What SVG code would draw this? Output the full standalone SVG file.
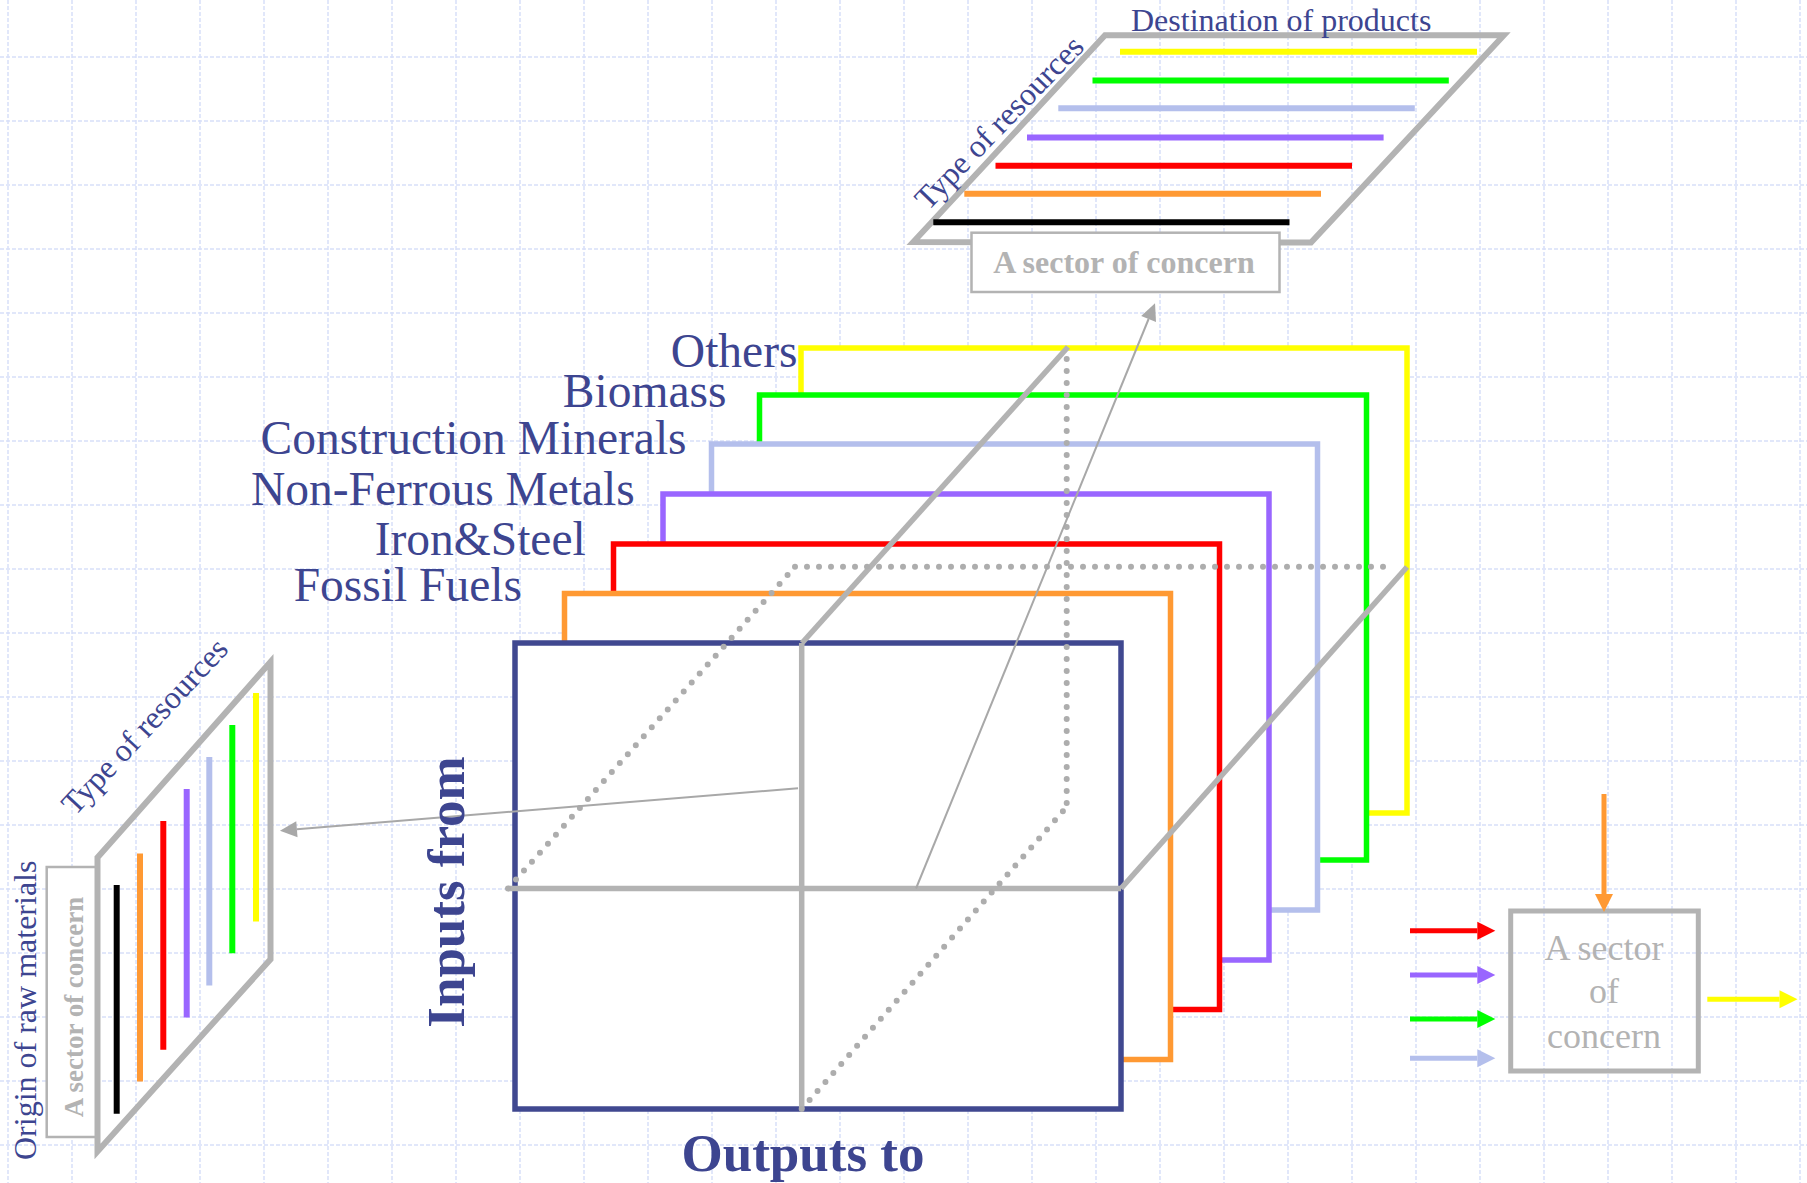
<svg xmlns="http://www.w3.org/2000/svg" width="1807" height="1183" viewBox="0 0 1807 1183">
<style>
.grid{fill:none;stroke:#d8dff9;stroke-width:1.5;stroke-dasharray:4 2}
.box{fill:#ffffff;stroke-width:5.5}
.lbl{font-family:"Liberation Serif","Times New Roman",serif;fill:#3d4590}
.layer{font-size:47.5px;text-anchor:end}
.solid{stroke:#b3b3b3;stroke-width:5.5;fill:none}
.dots{stroke:#adadad;stroke-width:6;fill:none;stroke-dasharray:0 12;stroke-linecap:round}
.thin{stroke:#a8a8a8;stroke-width:2;fill:none}
.sect{font-family:"Liberation Serif","Times New Roman",serif;fill:#b3b3b3}
.bar{stroke-width:6}
.arr{stroke-width:5}
</style>
<defs>
<marker id="mThin" markerUnits="userSpaceOnUse" orient="auto" refX="0" refY="0" markerWidth="20" markerHeight="20" overflow="visible"><path d="M0,-8 L17,0 L0,8 z" fill="#a8a8a8"/></marker>
<marker id="mRed" markerUnits="userSpaceOnUse" orient="auto" refX="0" refY="0" markerWidth="20" markerHeight="20" overflow="visible"><path d="M0,-9 L18,0 L0,9 z" fill="#ff0000"/></marker>
<marker id="mPurple" markerUnits="userSpaceOnUse" orient="auto" refX="0" refY="0" markerWidth="20" markerHeight="20" overflow="visible"><path d="M0,-9 L18,0 L0,9 z" fill="#9966ff"/></marker>
<marker id="mGreen" markerUnits="userSpaceOnUse" orient="auto" refX="0" refY="0" markerWidth="20" markerHeight="20" overflow="visible"><path d="M0,-9 L18,0 L0,9 z" fill="#00ff00"/></marker>
<marker id="mLblue" markerUnits="userSpaceOnUse" orient="auto" refX="0" refY="0" markerWidth="20" markerHeight="20" overflow="visible"><path d="M0,-9 L18,0 L0,9 z" fill="#b4bfec"/></marker>
<marker id="mOrange" markerUnits="userSpaceOnUse" orient="auto" refX="0" refY="0" markerWidth="20" markerHeight="20" overflow="visible"><path d="M0,-9 L18,0 L0,9 z" fill="#ff9933"/></marker>
<marker id="mYellow" markerUnits="userSpaceOnUse" orient="auto" refX="0" refY="0" markerWidth="20" markerHeight="20" overflow="visible"><path d="M0,-9 L18,0 L0,9 z" fill="#ffff00"/></marker>
</defs>
<rect x="0" y="0" width="1807" height="1183" fill="#ffffff"/>
<g id="grid">
<path class="grid" d="M8 0V1183M72 0V1183M136 0V1183M200 0V1183M264 0V1183M328 0V1183M392 0V1183M456 0V1183M520 0V1183M584 0V1183M648 0V1183M712 0V1183M776 0V1183M840 0V1183M904 0V1183M968 0V1183M1032 0V1183M1096 0V1183M1160 0V1183M1224 0V1183M1288 0V1183M1352 0V1183M1416 0V1183M1480 0V1183M1544 0V1183M1608 0V1183M1672 0V1183M1736 0V1183M1800 0V1183"/>
<path class="grid" d="M0 57H1807M0 121H1807M0 185H1807M0 249H1807M0 313H1807M0 377H1807M0 441H1807M0 505H1807M0 569H1807M0 633H1807M0 697H1807M0 761H1807M0 825H1807M0 889H1807M0 953H1807M0 1017H1807M0 1081H1807M0 1145H1807"/>
</g>
<g id="top-plane">
<polygon points="913.3,242 1105,35.3 1503.8,35.3 1311,242.5" fill="none" stroke="#b3b3b3" stroke-width="6"/>
<line class="bar" x1="1120" y1="51.7" x2="1477" y2="51.7" stroke="#ffff00"/>
<line class="bar" x1="1092.5" y1="80.5" x2="1448.8" y2="80.5" stroke="#00ff00"/>
<line class="bar" x1="1058.3" y1="108.3" x2="1414.8" y2="108.3" stroke="#b4bfec"/>
<line class="bar" x1="1027" y1="137.5" x2="1383.6" y2="137.5" stroke="#9966ff"/>
<line class="bar" x1="995.5" y1="165.7" x2="1352" y2="165.7" stroke="#ff0000"/>
<line class="bar" x1="964.3" y1="193.7" x2="1321" y2="193.7" stroke="#ff9933"/>
<line class="bar" x1="933.3" y1="222.3" x2="1289.5" y2="222.3" stroke="#000000"/>
<text class="lbl" x="1131" y="30.7" font-size="32">Destination of products</text>
<text class="lbl" font-size="32" transform="translate(928,211.5) rotate(-46)">Type of resources</text>
</g>
<g id="top-sector">
<rect x="971.5" y="232.7" width="308" height="59.3" fill="#ffffff" stroke="#b3b3b3" stroke-width="2.5"/>
<text class="sect" x="1124" y="272.7" font-size="32" font-weight="bold" text-anchor="middle">A sector of concern</text>
</g>
<g id="left-sector">
<rect x="46.7" y="867" width="50" height="270" fill="#ffffff" stroke="#b3b3b3" stroke-width="2.5"/>
<text class="sect" font-size="27" font-weight="bold" text-anchor="middle" transform="translate(83,1007) rotate(-90)">A sector of concern</text>
</g>
<g id="left-plane">
<polygon points="97.5,857.5 270.5,662 270.5,959.3 97.5,1151.4" fill="none" stroke="#b3b3b3" stroke-width="6"/>
<line class="bar" x1="116.7" y1="885" x2="116.7" y2="1113.7" stroke="#000000"/>
<line class="bar" x1="140" y1="853.4" x2="140" y2="1081.4" stroke="#ff9933"/>
<line class="bar" x1="163.3" y1="821" x2="163.3" y2="1049.8" stroke="#ff0000"/>
<line class="bar" x1="186.7" y1="789" x2="186.7" y2="1017.5" stroke="#9966ff"/>
<line class="bar" x1="209.3" y1="757" x2="209.3" y2="985.5" stroke="#b4bfec"/>
<line class="bar" x1="232.3" y1="725" x2="232.3" y2="953.2" stroke="#00ff00"/>
<line class="bar" x1="256" y1="693" x2="256" y2="921.6" stroke="#ffff00"/>
<text class="lbl" font-size="32" transform="translate(75,816.5) rotate(-47)">Type of resources</text>
<text class="lbl" font-size="32" transform="translate(36,1160) rotate(-90)">Origin of raw materials</text>
</g>
<g id="node-others"><rect class="box" x="801" y="348" width="606" height="465" stroke="#ffff00"/><text class="lbl layer" x="797.5" y="366.6">Others</text></g>
<g id="node-biomass"><rect class="box" x="759.5" y="395" width="607" height="465" stroke="#00ff00"/><text class="lbl layer" x="726.5" y="406.5">Biomass</text></g>
<g id="node-construction"><rect class="box" x="711.5" y="444" width="606" height="466" stroke="#b4bfec"/><text class="lbl layer" x="686.6" y="453.5">Construction Minerals</text></g>
<g id="node-nonferrous"><rect class="box" x="663" y="494" width="606" height="466" stroke="#9966ff"/><text class="lbl layer" x="634.8" y="505">Non-Ferrous Metals</text></g>
<g id="node-iron"><rect class="box" x="613.5" y="544" width="606" height="465.5" stroke="#ff0000"/><text class="lbl layer" x="585.7" y="554.5">Iron&amp;Steel</text></g>
<g id="node-fossil"><rect class="box" x="564.5" y="593.5" width="606" height="466" stroke="#ff9933"/><text class="lbl layer" x="522" y="601">Fossil Fuels</text></g>
<g id="node-front"><rect class="box" x="515" y="643" width="606" height="466" stroke="#404890" stroke-width="5"/></g>
<g id="connectors">
<line class="solid" x1="801.7" y1="643" x2="801.7" y2="1109"/>
<line class="solid" x1="508" y1="888.5" x2="1121" y2="888.5"/>
<line class="solid" x1="802" y1="643" x2="1068" y2="347"/>
<line class="solid" x1="1121" y1="888.5" x2="1407" y2="567"/>
<line class="dots" x1="1066.7" y1="359" x2="1066.7" y2="807"/>
<line class="dots" x1="795" y1="566.7" x2="1395" y2="566.7"/>
<line class="dots" x1="508" y1="888.5" x2="795" y2="566.7"/>
<line class="dots" x1="801.7" y1="1109" x2="1066.7" y2="807"/>
<line class="thin" x1="798" y1="788.3" x2="296.9" y2="829.3" marker-end="url(#mThin)"/>
<line class="thin" x1="916" y1="888.5" x2="1148.6" y2="319" marker-end="url(#mThin)"/>
</g>
<g id="axis-labels">
<text class="lbl" font-size="53" font-weight="bold" text-anchor="middle" transform="translate(464,892) rotate(-90)">Inputs from</text>
<text class="lbl" x="803" y="1171" font-size="53" font-weight="bold" text-anchor="middle">Outputs to</text>
</g>
<g id="right-sector">
<rect x="1510.7" y="911" width="187.6" height="160" fill="none" stroke="#b3b3b3" stroke-width="5"/>
<text class="sect" font-size="36" text-anchor="middle"><tspan x="1604" y="960">A sector</tspan><tspan x="1604" y="1003.3">of</tspan><tspan x="1604" y="1048.3">concern</tspan></text>
</g>
<g id="right-arrows">
<line class="arr" x1="1410" y1="930.7" x2="1477.3" y2="930.7" stroke="#ff0000" marker-end="url(#mRed)"/>
<line class="arr" x1="1410" y1="975" x2="1477.3" y2="975" stroke="#9966ff" marker-end="url(#mPurple)"/>
<line class="arr" x1="1410" y1="1019" x2="1477.3" y2="1019" stroke="#00ff00" marker-end="url(#mGreen)"/>
<line class="arr" x1="1410" y1="1058.3" x2="1477.3" y2="1058.3" stroke="#b4bfec" marker-end="url(#mLblue)"/>
<line class="arr" x1="1604" y1="794" x2="1604" y2="894" stroke="#ff9933" marker-end="url(#mOrange)"/>
<line class="arr" x1="1707.3" y1="999.3" x2="1779.5" y2="999.3" stroke="#ffff00" marker-end="url(#mYellow)"/>
</g>
</svg>
